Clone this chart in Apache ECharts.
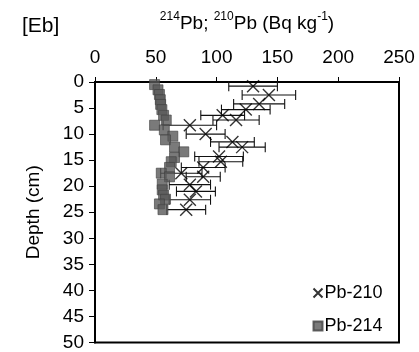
<!DOCTYPE html>
<html>
<head>
<meta charset="utf-8">
<script src="https://cdn.jsdelivr.net/npm/echarts@6/dist/echarts.min.js"></script>
<style>html,body{margin:0;padding:0;background:#fff}#c{width:419px;height:352px}</style>
</head>
<body>
<div id="c"></div>
<script>
// Pb-214 (squares)
const pb214Depth = [0.5,1.5,2.4,3.4,4.3,5.3,6.4,7.3,8.3,9.2,10.4,11.1,12.5,13.4,14.5,15.3,16.4,17.5,18.2,19.6,20.7,21.7,22.5,23.4,24.5];
const pb214Value = [49,51.8,53,53.7,54,55,56.4,58.6,49,57,64,58,65.4,73,65.4,62.7,61.3,54.5,61.3,55.3,55.3,56.4,58,53,55.9];
// Pb-210 (crosses) with error
const pb210Depth = [0.8,2.5,4.2,5.3,6.4,7.3,8.3,10,11.5,12.5,14.3,15.3,16.4,17.5,18.2,19.7,21,22.6,24.5];
const pb210Value = [130,143,135,124,105,116,78,91,113,121,102,103.5,89,71,89,78,83,78,75];
const pb210Err   = [20,22,21,20,18,19,22,16,18,19,20,18,18,17,14,17,16,17,16];
const xTicks = [0,50,100,150,200,250];
const yTicks = [0,5,10,15,20,25,30,35,40,45,50];

const chart = echarts.init(document.getElementById('c'));
const crossPath = 'path://M0,0L10,10M10,0L0,10';
const font = 'Liberation Sans, Arial, sans-serif';

chart.setOption({
  animation: false,
  textStyle: {fontFamily: font},
  title: {text: '[Eb]', left: 17, top: 11, textStyle: {fontSize: 21, fontWeight: 'normal', color: '#000', fontFamily: font}},
  grid: {left: 95, top: 82, right: 20, bottom: 7, show: true, borderColor: '#000', borderWidth: 2},
  legend: {
    orient: 'vertical', left: 306, top: 279, itemGap: 15, itemWidth: 9, itemHeight: 9,
    textStyle: {fontSize: 18, color: '#000', fontFamily: font, padding: [0,0,0,-3]},
    data: ['Pb-210', 'Pb-214']
  },
  xAxis: {
    type: 'value', position: 'top', min: xTicks[0], max: xTicks[xTicks.length-1], interval: 50,
    name: '{s|214}{n|Pb; }{s|210}{n|Pb (Bq kg}{s|-1}{n|)}',
    nameLocation: 'middle', nameGap: 49,
    nameTextStyle: {rich: {
      n: {fontSize: 19, color: '#000', fontFamily: font, verticalAlign: 'bottom', lineHeight: 22},
      s: {fontSize: 12, color: '#000', fontFamily: font, verticalAlign: 'top', lineHeight: 22}
    }},
    axisLine: {show: true, lineStyle: {color: '#000', width: 2}},
    axisTick: {show: true, inside: false, length: 5, lineStyle: {color: '#000'}},
    axisLabel: {fontSize: 19, color: '#000', margin: 15, fontFamily: font},
    splitLine: {show: false}
  },
  yAxis: {
    type: 'value', inverse: true, min: yTicks[0], max: yTicks[yTicks.length-1], interval: 5,
    name: 'Depth (cm)', nameLocation: 'middle', nameGap: 52, nameRotate: 90,
    nameTextStyle: {fontSize: 19, color: '#000', fontFamily: font},
    axisLine: {show: true, lineStyle: {color: '#000', width: 2}},
    axisTick: {show: true, inside: false, length: 6, lineStyle: {color: '#000'}},
    axisLabel: {fontSize: 19, color: '#000', margin: 11, fontFamily: font},
    splitLine: {show: false}
  },
  series: [
    {
      type: 'custom', name: 'err', silent: true, z: 1,
      data: pb210Value.map((v, i) => [v, pb210Depth[i], pb210Err[i]]),
      renderItem: function (params, api) {
        const v = api.value(0), d = api.value(1), e = api.value(2);
        const a = api.coord([v - e, d]), b = api.coord([v + e, d]);
        const h = 5;
        const st = {stroke: '#111', lineWidth: 1.1};
        return {type: 'group', children: [
          {type: 'line', shape: {x1: a[0], y1: a[1], x2: b[0], y2: b[1]}, style: st},
          {type: 'line', shape: {x1: a[0], y1: a[1]-h, x2: a[0], y2: a[1]+h}, style: st},
          {type: 'line', shape: {x1: b[0], y1: b[1]-h, x2: b[0], y2: b[1]+h}, style: st}
        ]};
      }
    },
    {
      type: 'scatter', name: 'Pb-210', z: 2, symbol: crossPath, symbolSize: 12,
      itemStyle: {color: 'none', borderColor: '#000', borderWidth: 1.4},
      data: pb210Value.map((v, i) => [v, pb210Depth[i]])
    },
    {
      type: 'scatter', name: 'Pb-214', z: 3, symbol: 'rect', symbolSize: 10,
      itemStyle: {color: '#595959', borderColor: '#404040', borderWidth: 0.8},
      data: pb214Value.map((v, i) => [v, pb214Depth[i]])
    }
  ]
});
</script>
</body>
</html>
